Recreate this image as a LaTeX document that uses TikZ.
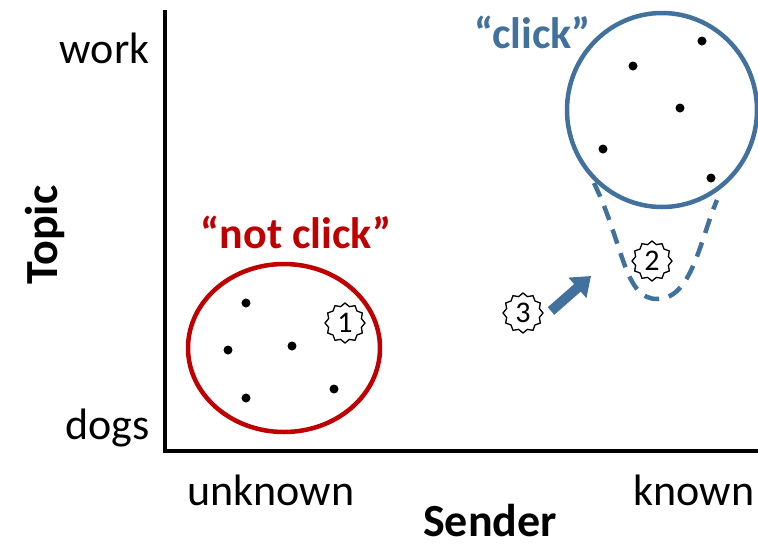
\documentclass[tikz,border=0pt]{standalone}
\usepackage{fontspec}
\setmainfont{Carlito}
\usetikzlibrary{shapes.geometric, arrows.meta, positioning}
\definecolor{clickblue}{HTML}{41719C}
\definecolor{notred}{HTML}{C00000}

\begin{document}
\begin{tikzpicture}[x=1pt, y=-1pt,
    axis/.style={line width=4pt, line cap=rect},
    ticktext/.style={font=\fontsize{44}{50}\selectfont},
    axistitle/.style={font=\fontsize{46}{52}\selectfont\bfseries},
    grouplabel/.style={font=\fontsize{44}{50}\selectfont\bfseries},
    dot/.style={circle, fill=black, inner sep=0pt, minimum size=9pt},
    burst/.style={star, star points=12, star point ratio=1.18, draw, fill=white,
        line width=1.3pt, inner sep=0pt, minimum size=40pt,
        font=\fontsize{30}{32}\selectfont}]
\useasboundingbox (0,0) rectangle (758,547);

% Axes
\coordinate (top) at (165,12);
\coordinate (origin) at (165,451);
\coordinate (right) at (758,451);
\draw[axis] (top) -- (origin) -- (right);

% Axis texts
\node[ticktext, anchor=east] (work) at (153,48) {work};
\node[ticktext, anchor=east] (dogs) at (153,428) {dogs};
\node[axistitle, rotate=90] (topic) at (45,235) {Topic};
\node[ticktext] (unknown) at (271,490) {unknown};
\node[ticktext] (known) at (694,490) {known};
\node[axistitle, inner sep=1pt] (sender) at (490,521) {Sender};

% "not click" group
\node[draw=notred, line width=4.5pt, ellipse, minimum width=192pt, minimum height=168pt] (notclick) at (284,348) {};
\node[grouplabel, text=notred] (notlabel) at (296,232) {“not click”};
\node[dot] (r1) at (246,303) {};
\node[dot] (r2) at (228,350) {};
\node[dot] (r3) at (292,346) {};
\node[dot] (r4) at (246,398) {};
\node[dot] (r5) at (334,389) {};

% "click" group
\node[draw=clickblue, line width=4.5pt, ellipse, minimum width=190pt, minimum height=194pt] (click) at (662,110) {};
\node[grouplabel, text=clickblue] (clicklabel) at (533,32) {“click”};
\node[dot] (b1) at (702,41) {};
\node[dot] (b2) at (633,66) {};
\node[dot] (b3) at (680,108) {};
\node[dot] (b4) at (603,149) {};
\node[dot] (b5) at (711,178) {};

% Widened region
\coordinate (wleft) at (594,183);
\coordinate (wbottom) at (658,299);
\coordinate (wright) at (717,200);
\draw[clickblue, line width=4.5pt, dash pattern=on 15pt off 10pt]
    (wleft) .. controls (624,245) and (624,300) .. (wbottom)
    .. controls (692,298) and (700,240) .. (wright);

% Numbered steps
\node[burst] (s1) at (345,323) {1};
\node[burst] (s2) at (652,261) {2};
\node[burst] (s3) at (523,313) {3};

% Step arrow
\coordinate (tail) at (551,311);
\coordinate (tip) at (591,276);
\draw[clickblue, line width=10pt, -{Triangle[length=18pt, width=26pt]}]
    (tail) -- (tip);

\end{tikzpicture}
\end{document}
